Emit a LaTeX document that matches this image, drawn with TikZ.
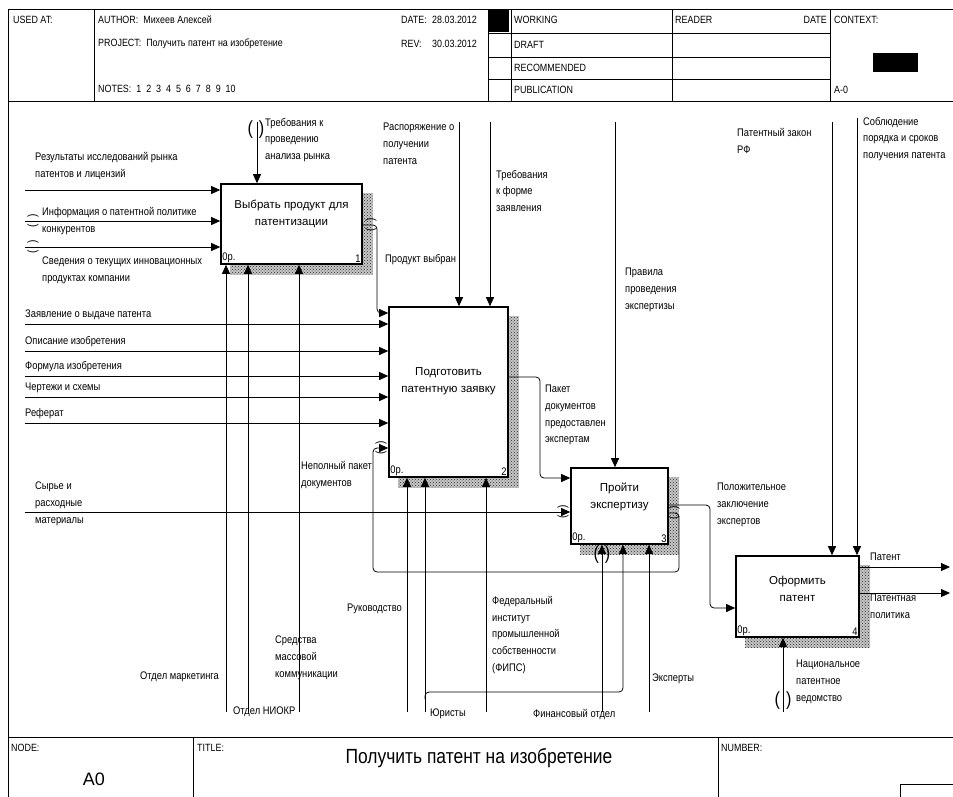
\documentclass[tikz,border=0pt]{standalone}
\usepackage{fontspec}
\setmainfont{Liberation Sans}
\newfontfamily\narrowfont{Liberation Sans}[FakeStretch=0.85]
\usetikzlibrary{arrows.meta,patterns,backgrounds}

\tikzset{
		lbl/.style      = {anchor=north west, inner sep=0pt, align=left,
				font=\narrowfont\fontsize{11}{16.7}\selectfont},
		hdr/.style      = {anchor=west, inner sep=0pt,
				font=\narrowfont\fontsize{10.5}{12}\selectfont},
		func/.style     = {draw, line width=1.6pt, fill=white, inner sep=0pt},
		functext/.style = {align=center, inner sep=0pt,
				font=\fontsize{11.5}{17}\selectfont},
		corner/.style   = {inner sep=2pt, font=\narrowfont\fontsize{11}{12}\selectfont},
		hatch/.style    = {preaction={fill=black!22}, pattern=crosshatch dots, pattern color=black!85},
		arr/.style      = {line width=0.8pt, -{Triangle[length=9pt,width=8pt]}},
		link/.style     = {rounded corners=4pt},
		tunnelv/.style  = {inner sep=0pt, font=\narrowfont\fontsize{19}{19}\selectfont},
		tunnelh/.style  = {tunnelv, rotate=90, font=\narrowfont\fontsize{12}{12}\selectfont},
		frame/.style    = {line width=0.8pt}
	}

\begin{document}
\begin{tikzpicture}[x=1pt, y=-1pt]
	\useasboundingbox (0,0) rectangle (953,796);

	\draw[frame] (8,800) -- (8,9) -- (960,9);
	\draw[frame] (8,101) -- (960,101);
	\draw[frame] (94,9) -- (94,101);
	\draw[frame] (488,9) -- (488,101);
	\draw[frame] (511,9) -- (511,101);
	\draw[frame] (672,9) -- (672,101);
	\draw[frame] (830,9) -- (830,101);
	\foreach \y in {33,57,79}
		\draw[frame] (488,\y) -- (830,\y);
	\fill (489,10) rectangle (509,32);
	\fill (873,53) rectangle (918,72);
	\draw[frame] (8,737) -- (960,737);
	\draw[frame] (193,737) -- (193,800);
	\draw[frame] (718,737) -- (718,800);
	\draw[frame] (900,800) -- (900,784) -- (960,784);

	\node[hdr] (hUsed) at (13,20) {USED AT:};
	\node[hdr] (hAuth) at (98,20) {AUTHOR:\ \ Михеев Алексей};
	\node[hdr] (hProj) at (98,44) {PROJECT:\ \ Получить патент на изобретение};
	\node[hdr] (hNote) at (98,89) {NOTES:\ \ 1\ \ 2\ \ 3\ \ 4\ \ 5\ \ 6\ \ 7\ \ 8\ \ 9\ \ 10};
	\node[hdr] (hDate) at (401,20) {DATE:};
	\node[hdr] (hDateV) at (432,20) {28.03.2012};
	\node[hdr] (hRev) at (401,44) {REV:};
	\node[hdr] (hRevV) at (432,44) {30.03.2012};
	\node[hdr] (hWork) at (514,20) {WORKING};
	\node[hdr] (hDraft) at (514,45) {DRAFT};
	\node[hdr] (hRec) at (514,68) {RECOMMENDED};
	\node[hdr] (hPub) at (514,90) {PUBLICATION};
	\node[hdr] (hRead) at (675,20) {READER};
	\node[hdr, anchor=east] (hRDate) at (827,20) {DATE};
	\node[hdr] (hCtx) at (834,20) {CONTEXT:};
	\node[hdr] (hA) at (834,90) {A-0};
	\node[hdr] (fNode) at (11,748) {NODE:};
	\node[hdr] (fTitle) at (197,748) {TITLE:};
	\node[hdr] (fNum) at (721,748) {NUMBER:};
	\node[inner sep=0pt, font=\narrowfont\fontsize{20.5}{22}\selectfont] (fName) at (479,758) {Получить патент на изобретение};
	\node[inner sep=0pt, font=\fontsize{18}{20}\selectfont] (fA0) at (94,779) {A0};

	\node[func, minimum width=141pt, minimum height=80pt] (b1) at (291.5,224) {};
	\node[func, minimum width=119pt, minimum height=170pt] (b2) at (448.5,392) {};
	\node[func, minimum width=97pt, minimum height=76pt] (b3) at (619.5,506) {};
	\node[func, minimum width=123pt, minimum height=81pt] (b4) at (797.5,596.5) {};
	\begin{scope}[on background layer]
		\foreach \b in {b1,b2,b3,b4}
			\fill[hatch] ([shift={(10pt,-10pt)}]\b.south west) rectangle ([shift={(10pt,-10pt)}]\b.north east);
	\end{scope}
	\node[functext] (t1) at ([yshift=10pt]b1.center) {Выбрать продукт для\\патентизации};
	\node[functext] (t2) at ([yshift=11pt]b2.center) {Подготовить\\патентную заявку};
	\node[functext] (t3) at ([yshift=9pt]b3.center) {Пройти\\экспертизу};
	\node[functext] (t4) at ([yshift=8pt]b4.center) {Оформить\\патент};
	\foreach \b/\n in {b1/1,b2/2,b3/3,b4/4} {
		\node[corner, anchor=south west] (\b o) at (\b.south west) {0р.};
		\node[corner, anchor=south east] (\b n) at (\b.south east) {\n};
	}

	\coordinate (in11) at (25,190);
	\coordinate (in12) at (25,221);
	\coordinate (in13) at (25,247);
	\coordinate (ct1) at (257,122);
	\coordinate (mc11) at (226,712);
	\coordinate (mc12) at (248,712);
	\coordinate (mc13) at (299,712);
	\coordinate (in21) at (25,324);
	\coordinate (in22) at (25,351);
	\coordinate (in23) at (25,376);
	\coordinate (in24) at (25,397);
	\coordinate (in25) at (25,423);
	\coordinate (ct21) at (459,122);
	\coordinate (ct22) at (490,122);
	\coordinate (mc21) at (407,712);
	\coordinate (mc22) at (425,712);
	\coordinate (mc23) at (486,712);
	\coordinate (in3) at (25,512);
	\coordinate (ct3) at (615,122);
	\coordinate (mc31) at (602,712);
	\coordinate (mc32) at (425,692);
	\coordinate (mc32b) at (623,692);
	\coordinate (mc33) at (649,712);
	\coordinate (ct41) at (832,122);
	\coordinate (ct42) at (857,118);
	\coordinate (mc4) at (783,712);
	\coordinate (out41) at (950,567);
	\coordinate (out42) at (950,593);
	\coordinate (o1a) at (377,225);
	\coordinate (o1b) at (377,313);
	\coordinate (o2a) at (540,377);
	\coordinate (o2b) at (540,478);
	\coordinate (o3a) at (710,505);
	\coordinate (o3b) at (710,608);
	\coordinate (fb1) at (679,513);
	\coordinate (fb2) at (679,572);
	\coordinate (fb3) at (373,572);
	\coordinate (fb4) at (373,448);

	\foreach \i in {in11,in12,in13}
		\draw[arr] (\i) -- (\i -| b1.west);
	\draw[arr] (ct1) -- (ct1 |- b1.north);
	\foreach \m in {mc11,mc12,mc13}
		\draw[arr] (\m) -- (\m |- b1.south);
	\foreach \i in {in21,in22,in23,in24,in25}
		\draw[arr] (\i) -- (\i -| b2.west);
	\foreach \c in {ct21,ct22}
		\draw[arr] (\c) -- (\c |- b2.north);
	\foreach \m in {mc21,mc22,mc23}
		\draw[arr] (\m) -- (\m |- b2.south);
	\draw[arr] (in3) -- (in3 -| b3.west);
	\draw[arr] (ct3) -- (ct3 |- b3.north);
	\foreach \m in {mc31,mc33}
		\draw[arr] (\m) -- (\m |- b3.south);
	\draw[arr, link] ([yshift=-7pt]mc32) -- (mc32) -- (mc32b) -- (mc32b |- b3.south);
	\foreach \c in {ct41,ct42}
		\draw[arr] (\c) -- (\c |- b4.north);
	\draw[arr] (mc4) -- (mc4 |- b4.south);
	\foreach \o in {out41,out42}
		\draw[arr] (\o -| b4.east) -- (\o);
	\draw[arr, link] (o1a -| b1.east) -- (o1a) -- (o1b) -- (o1b -| b2.west);
	\draw[arr, link] (o2a -| b2.east) -- (o2a) -- (o2b) -- (o2b -| b3.west);
	\draw[arr, link] (o3a -| b3.east) -- (o3a) -- (o3b) -- (o3b -| b4.west);
	\draw[arr, link] (fb1 -| b3.east) -- (fb1) -- (fb2) -- (fb3) -- (fb4) -- (fb4 -| b2.west);

	\node[tunnelv] (tu1) at (256,130) {(\hspace{6pt})};
	\node[tunnelh] (tu2) at (33,221) {(\hspace{7pt})};
	\node[tunnelh] (tu3) at (33,247) {(\hspace{7pt})};
	\node[tunnelh] (tu4) at (371,225) {(\hspace{7pt})};
	\node[tunnelh] (tu5) at (381,448) {(\hspace{7pt})};
	\node[tunnelh] (tu6) at (674,513) {(\hspace{7pt})};
	\node[tunnelh] (tu7) at (563,512) {(\hspace{7pt})};
	\node[tunnelv] (tu8) at (602,555) {(\hspace{6pt})};
	\node[tunnelv] (tu9) at (783,701) {(\hspace{6pt})};

	\node[lbl] (lRes) at (35,152) {Результаты исследований рынка\\патентов и лицензий};
	\node[lbl] (lInf) at (42,207) {Информация о патентной политике\\конкурентов};
	\node[lbl] (lSv) at (42,257) {Сведения о текущих инновационных\\продуктах компании};
	\node[lbl] (lTr1) at (265,118) {Требования к\\проведению\\анализа рынка};
	\node[lbl] (lRasp) at (383,123) {Распоряжение о\\получении\\патента};
	\node[lbl] (lTr2) at (496,170) {Требования\\к форме\\заявления};
	\node[lbl] (lProd) at (385,254) {Продукт выбран};
	\node[lbl] (lPrav) at (625,268) {Правила\\проведения\\экспертизы};
	\node[lbl] (lZak) at (737,128) {Патентный закон\\РФ};
	\node[lbl] (lSobl) at (863,117) {Соблюдение\\порядка и сроков\\получения патента};
	\node[lbl] (lZay) at (25,310) {Заявление о выдаче патента};
	\node[lbl] (lOp) at (25,336) {Описание изобретения};
	\node[lbl] (lForm) at (25,361) {Формула изобретения};
	\node[lbl] (lCh) at (25,383) {Чертежи и схемы};
	\node[lbl] (lRef) at (25,408) {Реферат};
	\node[lbl] (lNep) at (301,461) {Неполный пакет\\документов};
	\node[lbl] (lSyr) at (35,482) {Сырье и\\расходные\\материалы};
	\node[lbl] (lPak) at (545,385) {Пакет\\документов\\предоставлен\\экспертам};
	\node[lbl] (lPol) at (717,483) {Положительное\\заключение\\экспертов};
	\node[lbl] (lPat) at (870,553) {Патент};
	\node[lbl] (lPP) at (870,594) {Патентная\\политика};
	\node[lbl] (lRuk) at (347,604) {Руководство};
	\node[lbl] (lFips) at (492,596) {Федеральный\\институт\\промышленной\\собственности\\(ФИПС)};
	\node[lbl] (lSmi) at (275,636) {Средства\\массовой\\коммуникации};
	\node[lbl] (lMark) at (140,672) {Отдел маркетинга};
	\node[lbl] (lNiokr) at (233,707) {Отдел НИОКР};
	\node[lbl] (lJur) at (430,709) {Юристы};
	\node[lbl] (lFin) at (533,709) {Финансовый отдел};
	\node[lbl] (lExp) at (652,674) {Эксперты};
	\node[lbl] (lNac) at (796,660) {Национальное\\патентное\\ведомство};
\end{tikzpicture}
\end{document}
